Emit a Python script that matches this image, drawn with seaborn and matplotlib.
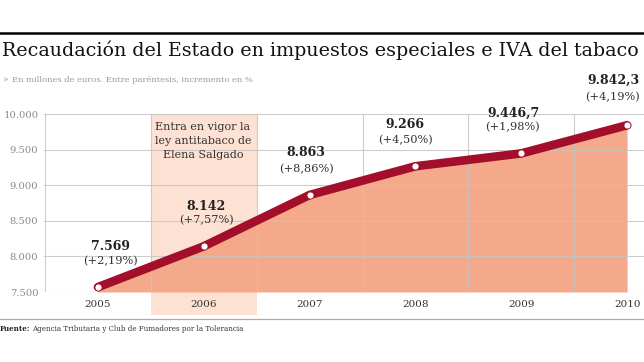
import matplotlib
matplotlib.use("Agg")
import matplotlib.pyplot as plt
import seaborn as sns
import pandas as pd
from matplotlib.patches import Rectangle
from matplotlib.lines import Line2D

years = [2005, 2006, 2007, 2008, 2009, 2010]
values = [7569, 8142, 8863, 9266, 9446.7, 9842.3]
value_labels = ["7.569", "8.142", "8.863", "9.266", "9.446,7", "9.842,3"]
pct_labels = ["(+2,19%)", "(+7,57%)", "(+8,86%)", "(+4,50%)", "(+1,98%)", "(+4,19%)"]
yticks = [7500, 8000, 8500, 9000, 9500, 10000]
ytick_labels = ["7.500", "8.000", "8.500", "9.000", "9.500", "10.000"]

df = pd.DataFrame({"year": years, "value": values})

sns.set_theme(style="white")
plt.rcParams["font.family"] = ["DejaVu Serif"]

W, H = 644, 362
fig = plt.figure(figsize=(W / 100, H / 100), dpi=100)

def fx(px):
    return px / W

def fy(py):
    return 1 - py / H

ax = fig.add_axes([fx(44), fy(292), fx(600), fy(114) - fy(292)])
ax.set_xlim(2004.49, 2010.16)
ax.set_ylim(7500, 10000)

# shaded band 2006
band = Rectangle((2005.5, -0.13), 1.0, 1.13, transform=ax.get_xaxis_transform(),
                 facecolor="#fde1d3", edgecolor="none", clip_on=False, zorder=0)
ax.add_patch(band)

ax.fill_between(years, values, 7500, color="#f4a98a", zorder=1, linewidth=0)

# grid
for y in yticks:
    ax.axhline(y, color="#c4c4c4", lw=0.8, zorder=2, alpha=0.85)
for x in [2004.5, 2005.5, 2006.5, 2007.5, 2008.5, 2009.5]:
    ax.axvline(x, color="#c4c4c4", lw=0.8, zorder=2, alpha=0.85)

sns.lineplot(data=df, x="year", y="value", ax=ax, color="#a30f2b", lw=6.2,
             zorder=3, solid_capstyle="round")
ax.scatter(years, values, s=26, color="white", edgecolor="#a30f2b", linewidth=0.6, zorder=4)

for s in ax.spines.values():
    s.set_visible(False)

ax.set_xticks(years)
ax.set_xticklabels([str(y) for y in years], fontsize=7.5, color="#333333")
ax.set_yticks(yticks)
ax.set_yticklabels(ytick_labels, fontsize=7.2, color="#8a8a8a")
ax.tick_params(axis="x", length=0, pad=6)
ax.tick_params(axis="y", length=0, pad=4)
ax.set_xlabel("")
ax.set_ylabel("")

# annotations (pixel offsets from points)
label_pos = [(110, 247, 261), (206, 206, 220), (306, 153, 169),
             (405, 125, 140), (513, 113, 127), (613, 80, 97)]
for (xp, yv, yp), vl, pl in zip(label_pos, value_labels, pct_labels):
    fig.text(fx(xp), fy(yv), vl, ha="center", va="center", fontsize=9,
             fontweight="bold", color="#222222")
    fig.text(fx(xp), fy(yp), pl, ha="center", va="center", fontsize=8.2,
             color="#333333")

fig.text(fx(203), fy(141), "Entra en vigor la\nley antitabaco de\nElena Salgado",
         ha="center", va="center", fontsize=8, color="#333333", linespacing=1.45)

# header
fig.add_artist(Line2D([0, 1], [fy(32.5), fy(32.5)], color="black", lw=1.8))
fig.text(fx(2), fy(50), "Recaudación del Estado en impuestos especiales e IVA del tabaco",
         ha="left", va="center", fontsize=13.65, color="#111111")
fig.text(fx(2), fy(80), "»", ha="left", va="center", fontsize=6.5, color="#9a9a9a")
fig.text(fx(12), fy(80), "En millones de euros. Entre paréntesis, incremento en %",
         ha="left", va="center", fontsize=6, color="#9a9a9a")

# footer
fig.add_artist(Line2D([0, 1], [fy(319), fy(319)], color="#aaaaaa", lw=0.9))
t = fig.text(fx(0), fy(329), "Fuente:", ha="left", va="center", fontsize=5.1,
             fontweight="bold", color="#222222")
fig.canvas.draw()
bb = t.get_window_extent()
fig.text(bb.x1 / W + 0.002, fy(329), "Agencia Tributaria y Club de Fumadores por la Tolerancia",
         ha="left", va="center", fontsize=5.1, color="#333333")

fig.savefig("out.png", dpi=100)
